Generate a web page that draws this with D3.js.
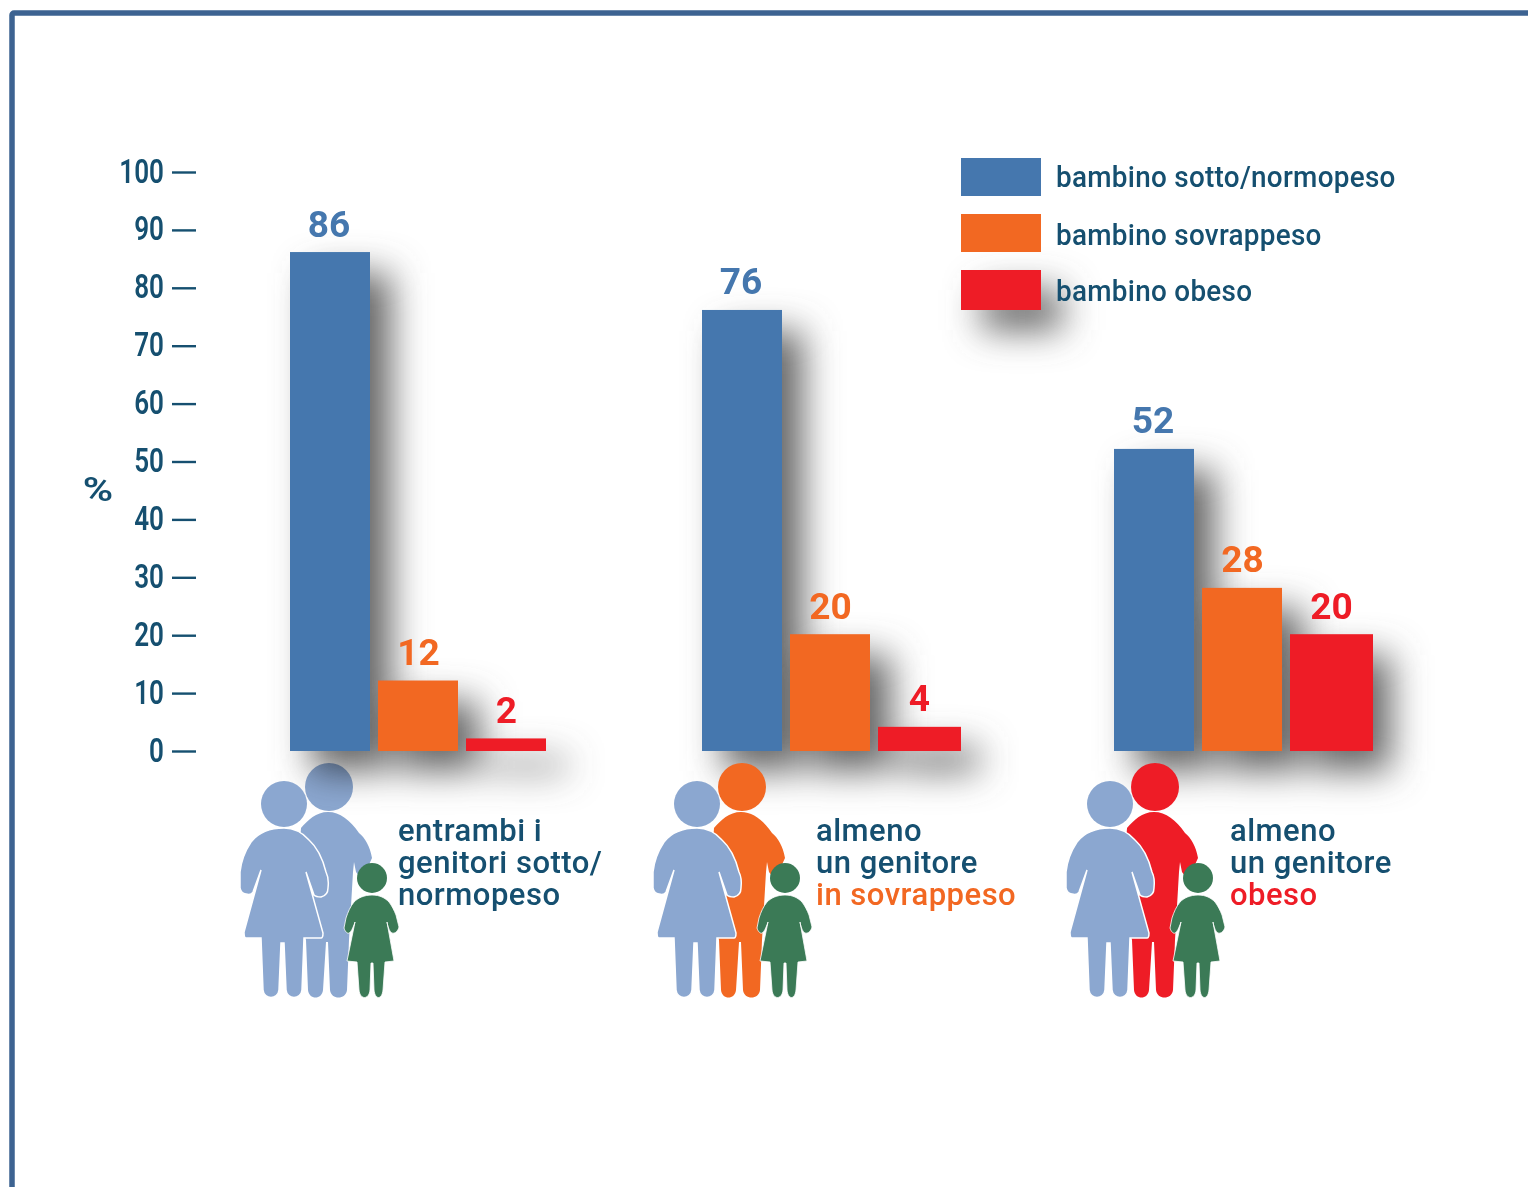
<!DOCTYPE html>
<html><head><meta charset="utf-8">
<script src="https://cdnjs.cloudflare.com/ajax/libs/d3/7.8.5/d3.min.js"></script>
<style>html,body{margin:0;padding:0;background:#fff}svg{display:block}text{font-family:Roboto,"Liberation Sans",sans-serif}</style>
</head><body><svg id="c" width="1528" height="1187"></svg>
<script>
const categories = ["entrambi","sovrappeso","obeso"];
const seriesNames = ["bambino sotto/normopeso","bambino sovrappeso","bambino obeso"];
const normopeso = [86,76,52];
const sovrappeso = [12,20,28];
const obeso = [2,4,20];
const tickValues = [0,10,20,30,40,50,60,70,80,90,100];
const groupLines = [
  [["entrambi i","d"],["genitori sotto/","d"],["normopeso","d"]],
  [["almeno","d"],["un genitore","d"],["in sovrappeso","o"]],
  [["almeno","d"],["un genitore","d"],["obeso","r"]]
];
const seriesColors = ["#4477ae","#f26722","#ee1c25"];
const secondParent = ["#8ba7d0","#f26722","#ee1c25"];
const ink = "#13506f", lightBlue = "#8ba7d0", green = "#3b7a57";
const txtColor = {d:ink,o:"#f26722",r:"#ee1c25"};

const svg = d3.select("#c");
const defs = svg.append("defs");
defs.append("filter").attr("id","sh").attr("filterUnits","userSpaceOnUse").attr("x",0).attr("y",0).attr("width",1528).attr("height",1187)
  .append("feGaussianBlur").attr("stdDeviation",18);
defs.append("filter").attr("id","soft").attr("filterUnits","userSpaceOnUse").attr("x",0).attr("y",0).attr("width",1528).attr("height",1187)
  .append("feGaussianBlur").attr("stdDeviation",0.65);

const root = svg.append("g").attr("filter","url(#soft)");
root.append("rect").attr("width",1528).attr("height",1187).attr("fill","#fff");

const y = d3.scaleLinear().domain([0,100]).range([751,172]);
const x0 = d3.scaleBand().domain(categories).range([290,290+412*3]);
const rows = categories.flatMap((c,i)=>[normopeso[i],sovrappeso[i],obeso[i]].map((v,s)=>({c,s,v})));
const barW = 80;
const barX = d => x0(d.c) + d.s*88;

// frame
root.append("rect").attr("x",12).attr("y",13).attr("width",1700).attr("height",1400).attr("rx",2)
  .attr("fill","none").attr("stroke","#3d6391").attr("stroke-width",5.5);

// shadows
const shadow = root.append("g").attr("filter","url(#sh)").attr("transform","translate(21,20)");
shadow.selectAll("rect.b").data(rows).join("rect").attr("class","b")
  .attr("x",barX).attr("width",barW).attr("y",d=>y(d.v)).attr("height",d=>y(0)-y(d.v)).attr("fill","#666");
shadow.append("rect").attr("x",961).attr("y",270).attr("width",80).attr("height",40).attr("fill","#666");

// people
const woman = "M284 828C270 828 258 833 251 842C245 851 241 862 240 872L240 888C241 893 243 894 246 894C250 895 252 894 253 892L261 870L244 932C244 936 245 938 246 938L261 938L263 990C264 1000 278 1000 279 990L281 943L284 943L286 990C287 1000 301 1000 302 990L304 938L321 938C323 938 323 935 323 933L306 872L314 895C316 897 319 897 321 897C325 896 328 893 328 888C329 880 328 876 326 872C323 860 318 848 309 840C302 832 293 828 284 828Z";
const man = "M328 812C316 812 308 820 301 828L296 900L306 940L308 990C309 1000 322 1000 323 990L326 942L328 942L330 990C331 1000 346 1000 347 990L349 940L353 872L354 862L356 872L362 880L372 858C370 846 365 838 359 833C350 820 340 812 328 812Z";
const child = "M372 895C364 895 358 898 354 902C350 907 348 912 346 918L344 928C345 932 348 934 349 933C351 932 353 928 355 922L347 961L357 962L359 990C360 1000 369 1000 370 990L371 963L373 963L374 990C375 1000 382 1000 383 990L385 962L394 961L387 922C388 928 390 932 392 933C395 934 398 931 399 927L396 915C394 910 392 906 389 902C385 898 380 895 372 895Z";
const people = root.append("g").selectAll("g").data(categories).join("g")
  .attr("transform",(d,i)=>`translate(${x0(d)-290+i*1},0)`);
people.append("circle").attr("cx",329).attr("cy",787).attr("r",24).attr("fill",(d,i)=>secondParent[i])
  .style("mix-blend-mode",(d,i)=>i===0?"multiply":"normal");
people.append("path").attr("d",man).attr("fill",(d,i)=>secondParent[i]);
people.append("circle").attr("cx",284).attr("cy",804).attr("r",23).attr("fill",lightBlue);
people.append("path").attr("d",woman).attr("fill",lightBlue).attr("stroke","#fff").attr("stroke-width",1.5);
people.append("circle").attr("cx",372).attr("cy",878).attr("r",15).attr("fill",green);
people.append("path").attr("d",child).attr("fill",green).attr("stroke","#fff").attr("stroke-width",0.8);

// bars
root.append("g").selectAll("rect").data(rows).join("rect")
  .attr("x",barX).attr("width",d=>d.s===2&&d.c!==categories[0]?83:barW).attr("y",d=>y(d.v)-1).attr("height",d=>y(0)-y(d.v)+1)
  .attr("fill",d=>seriesColors[d.s]);
root.append("g").selectAll("text").data(rows).join("text")
  .attr("transform",d=>`translate(${barX(d)+(d.s===2&&d.c!==categories[0]?41.5:d.s===0?39:40.5)},${y(d.v)-16.5}) scale(1.03,1)`)
  .attr("text-anchor","middle").attr("font-size",36).attr("font-weight",700)
  .attr("fill",d=>seriesColors[d.s]).text(d=>d.v);

// axis
const ax = root.append("g").attr("transform","translate(196,0)")
  .call(d3.axisLeft(y).tickValues(tickValues).tickSize(24).tickPadding(8).tickFormat(d3.format("d")));
ax.select(".domain").remove();
ax.selectAll("line").attr("stroke",ink).attr("stroke-width",2.4);
ax.selectAll("text").attr("x",null).attr("dy",null).attr("text-anchor","end").attr("fill",ink)
  .attr("font-size",33).attr("font-weight",600).attr("font-family","Roboto")
  .attr("transform","translate(-32,10) scale(.79,1)");
root.append("text").attr("transform","translate(98,501) scale(1.25,1)").attr("text-anchor","middle").attr("font-size",33).attr("font-weight",600).attr("fill",ink).text("%");

// legend
const legY = [158,214,270], legH=[38,38,40], legT=[187,245,301];
const leg = root.append("g").selectAll("g").data(seriesNames).join("g");
leg.append("rect").attr("x",961).attr("y",(d,i)=>legY[i]).attr("width",80).attr("height",(d,i)=>legH[i]).attr("fill",(d,i)=>seriesColors[i]);
leg.append("text").attr("transform",(d,i)=>`translate(1056,${legT[i]}) scale(.93,1)`).attr("font-size",30).attr("font-weight",500).attr("letter-spacing",0.3).attr("fill",ink).text(d=>d);

// group labels
const labelX = [398,816,1230];
groupLines.forEach((ls,i)=>{
  ls.forEach((l,j)=>{
    root.append("text").attr("transform",`translate(${labelX[i]},${841+j*32}) scale(.97,1)`)
      .attr("font-size",32).attr("font-weight",500).attr("letter-spacing",0.5).attr("fill",txtColor[l[1]]).text(l[0]);
  });
});
</script></body></html>
